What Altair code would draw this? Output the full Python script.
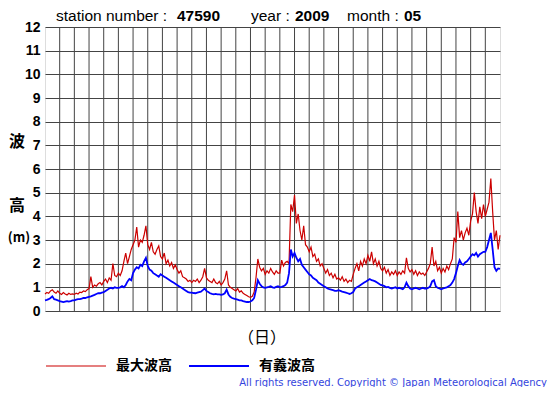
import altair as alt
import pandas as pd

# 3-hourly readings, day 1 00h .. day 31 24h
max_wave = [
    0.72, 0.78, 0.75, 0.85, 0.90, 0.80, 0.75, 0.85,
    0.75, 0.70, 0.78, 0.72, 0.68, 0.75, 0.70, 0.72,
    0.70, 0.75, 0.72, 0.80, 0.78, 0.85, 0.82, 0.90,
    0.95, 1.45, 1.00, 1.10, 1.05, 1.15, 1.20, 1.10,
    1.25, 1.35, 1.20, 1.40, 1.30, 2.00, 1.50, 1.45,
    1.60, 1.50, 1.70, 2.10, 2.45, 2.00, 2.30, 2.60,
    2.80, 3.00, 3.55, 2.70, 3.00, 2.90, 3.20, 3.60,
    2.80, 2.60, 2.90, 2.50, 2.40, 2.60, 2.75, 2.30,
    2.20, 2.45, 2.00, 2.15, 1.90, 2.05, 1.80, 1.95,
    1.75, 1.60, 1.70, 1.45, 1.40, 1.35, 1.25, 1.30,
    1.20, 1.30, 1.25, 1.35, 1.20, 1.30, 1.45, 1.80,
    1.40, 1.30, 1.25, 1.20, 1.35, 1.20, 1.15, 1.25,
    1.10, 1.20, 1.35, 1.70, 1.10, 1.00, 0.95, 0.90,
    0.85, 0.95, 0.80, 0.85, 0.75, 0.70, 0.65, 0.60,
    0.58, 0.62, 0.80, 1.40, 2.20, 1.85, 1.70, 1.80,
    1.55, 1.70, 1.60, 1.80, 1.65, 1.55, 1.70, 1.60,
    1.60, 2.15, 1.90, 2.05, 2.10, 2.00, 4.50, 4.20,
    4.90, 3.70, 4.10, 3.40, 3.00, 3.60, 2.80, 2.70,
    2.50, 2.70, 2.30, 2.40, 2.10, 2.20, 1.90, 2.00,
    1.80, 1.60, 1.75, 1.50, 1.60, 1.40, 1.55, 1.35,
    1.40, 1.30, 1.45, 1.25, 1.35, 1.20, 1.30, 1.25,
    1.55, 1.80, 2.00, 1.70, 2.10, 1.90, 2.20, 2.00,
    2.35, 2.10, 2.50, 2.00, 2.20, 1.90, 2.10, 1.80,
    1.70, 1.85, 1.60, 1.75, 1.50, 1.65, 1.55, 1.70,
    1.50, 1.65, 1.55, 1.70, 1.60, 2.25, 1.80, 1.65,
    1.75, 1.55, 1.70, 1.50, 1.65, 1.55, 1.60, 1.50,
    1.65, 1.80, 2.00, 2.70, 1.90, 2.10, 1.70, 1.85,
    1.60, 1.80, 1.65, 1.90, 1.75, 2.00, 2.20, 3.10,
    2.90, 4.20, 3.10, 3.40, 3.00, 3.30, 3.50, 3.20,
    3.80, 4.10, 5.00, 4.20, 3.70, 4.40, 3.90, 4.50,
    4.00, 4.30, 4.60, 5.60, 4.20, 3.00, 3.40, 2.60,
    3.20,
]

sig_wave = [
    0.45, 0.47, 0.50, 0.55, 0.62, 0.50, 0.48, 0.45,
    0.42, 0.40, 0.38, 0.40, 0.42, 0.40, 0.42, 0.45,
    0.45, 0.48, 0.50, 0.50, 0.52, 0.55, 0.55, 0.58,
    0.60, 0.62, 0.65, 0.68, 0.72, 0.75, 0.75, 0.78,
    0.80, 0.85, 0.90, 0.95, 0.98, 0.95, 1.00, 0.98,
    0.98, 1.00, 1.05, 1.00, 1.10, 1.25, 1.35, 1.30,
    1.60, 1.75, 1.85, 1.80, 1.95, 1.90, 2.10, 2.25,
    1.90, 1.75, 1.70, 1.60, 1.55, 1.50, 1.45, 1.55,
    1.50, 1.45, 1.40, 1.35, 1.30, 1.25, 1.20, 1.15,
    1.10, 1.05, 1.00, 0.95, 0.90, 0.85, 0.80, 0.78,
    0.78, 0.76, 0.75, 0.78, 0.80, 0.82, 0.88, 0.95,
    0.85, 0.80, 0.75, 0.72, 0.70, 0.72, 0.70, 0.70,
    0.68, 0.70, 0.75, 0.90, 0.70, 0.60, 0.55, 0.52,
    0.50, 0.48, 0.45, 0.45, 0.42, 0.40, 0.38, 0.38,
    0.40, 0.45, 0.55, 0.90, 1.30, 1.15, 1.05, 1.00,
    0.98, 1.00, 1.02, 1.05, 1.00, 0.98, 1.02, 1.05,
    1.00, 1.02, 1.05, 1.10, 1.20, 1.60, 2.60, 2.30,
    2.45, 2.25, 2.10, 2.20, 1.95, 1.85, 1.75, 1.65,
    1.55, 1.50, 1.40, 1.35, 1.30, 1.20, 1.15, 1.10,
    1.05, 1.00, 0.95, 0.92, 0.90, 0.88, 0.85, 0.85,
    0.88, 0.85, 0.82, 0.80, 0.78, 0.75, 0.72, 0.75,
    0.80, 0.95, 1.00, 1.05, 1.10, 1.15, 1.20, 1.25,
    1.30, 1.35, 1.30, 1.28, 1.25, 1.20, 1.15, 1.10,
    1.08, 1.05, 1.00, 1.02, 0.98, 0.95, 0.98, 1.00,
    0.95, 0.98, 0.95, 0.92, 1.00, 1.20, 1.05, 0.95,
    0.92, 0.95, 0.98, 0.95, 0.92, 0.95, 0.98, 0.95,
    0.95, 0.98, 1.05, 1.25, 1.30, 1.05, 0.98, 0.95,
    0.92, 0.95, 0.98, 1.00, 1.05, 1.10, 1.20, 1.35,
    1.60, 1.90, 2.15, 2.00, 1.95, 2.05, 2.10, 2.20,
    2.30, 2.40, 2.35, 2.45, 2.30, 2.40, 2.45, 2.50,
    2.50, 2.70, 3.00, 3.30, 2.60, 1.85, 1.70, 1.80,
    1.78,
]

series_names = ["最大波高", "有義波高"]
series_colors = ["#cc0000", "#0000ff"]
series_widths = [1.2, 1.8]
day_lines = list(range(1, 31))
x_label_days = [5, 10, 15, 20, 25, 30]
y_ticks = list(range(0, 13))

n = len(max_wave)
times = [i / 8 for i in range(n)]
df = pd.DataFrame({
    "t": times + times,
    "h": max_wave + sig_wave,
    "s": [series_names[0]] * n + [series_names[1]] * n,
})

xscale = alt.Scale(domain=[0, 31], nice=False, zero=False)
yscale = alt.Scale(domain=[0, 12], nice=False)
grid_color = "#444444"

vgrid = alt.Chart(pd.DataFrame({"d": day_lines})).mark_rule(
    color=grid_color, strokeWidth=1
).encode(x=alt.X("d:Q", scale=xscale, axis=None))

lines = alt.Chart(df).mark_line(interpolate="linear").encode(
    x=alt.X(
        "t:Q", scale=xscale,
        axis=alt.Axis(
            values=[d - 0.5 for d in x_label_days],
            labelExpr="format(datum.value + 0.5, 'd')",
            grid=False, ticks=False, domain=False, title=None,
            labelFont="Liberation Sans", labelFontSize=15, labelColor="#000",
            labelPadding=4, labelFlush=False,
        ),
    ),
    y=alt.Y(
        "h:Q", scale=yscale,
        axis=alt.Axis(
            values=y_ticks, grid=True, gridColor=grid_color, gridWidth=1,
            gridOpacity=1, ticks=False, domain=False, title=None,
            labelFont="Liberation Sans", labelFontSize=14, labelFontWeight="bold",
            labelColor="#000", labelPadding=5, labelFlush=False,
        ),
    ),
    color=alt.Color(
        "s:N",
        scale=alt.Scale(domain=series_names, range=series_colors),
        sort=series_names,
        legend=alt.Legend(
            title=None, orient="none", legendX=0, legendY=308,
            direction="horizontal", symbolType="stroke", symbolSize=3600,
            symbolStrokeWidth=4, labelFont="Noto Sans CJK JP",
            labelFontSize=14, labelFontWeight="bold", labelColor="#000",
            labelOffset=9, columnPadding=13,
        ),
    ),
    strokeWidth=alt.StrokeWidth(
        "s:N", scale=alt.Scale(domain=series_names, range=series_widths),
        legend=None,
    ),
    order="t:Q",
)


def label(txt, x, y, size=13, weight="normal", font="Liberation Sans",
          align="left", baseline="middle", color="#000"):
    return alt.Chart(alt.Data(values=[{}])).mark_text(
        text=txt, fontSize=size, fontWeight=weight, font=font,
        align=align, baseline=baseline, color=color,
    ).encode(x=alt.value(x), y=alt.value(y))


cjk = "Noto Sans CJK JP"
fs = 15.5
texts = [
    label("station number :", 11, -11, size=fs),
    label("47590", 132, -11, size=fs, weight="bold"),
    label("year :", 206, -11, size=fs),
    label("2009", 250, -11, size=fs, weight="bold"),
    label("month :", 302, -11, size=fs),
    label("05", 359, -11, size=fs, weight="bold"),
    label("波", -28, 115, size=16, weight="bold", font=cjk, align="center"),
    label("高", -28, 179, size=16, weight="bold", font=cjk, align="center"),
    label("(m)", -26, 211, size=13, weight="bold", font=cjk, align="center"),
    label("（日）", 217, 311, size=16, font=cjk, align="center"),
    label("All rights reserved. Copyright © Japan Meteorological Agency",
          502, 359, size=10, font="DejaVu Sans", align="right",
          baseline="alphabetic", color="#3344dd"),
]

chart = alt.layer(vgrid, lines, *texts).properties(
    width=455, height=284,
    autosize=alt.AutoSizeParams(type="none"),
    padding={"left": 37, "top": 19, "right": 47, "bottom": 76},
).configure_view(stroke="#000", strokeWidth=2).configure(background="white")

chart.save("out.html", embed_options={"renderer": "svg", "actions": False})
